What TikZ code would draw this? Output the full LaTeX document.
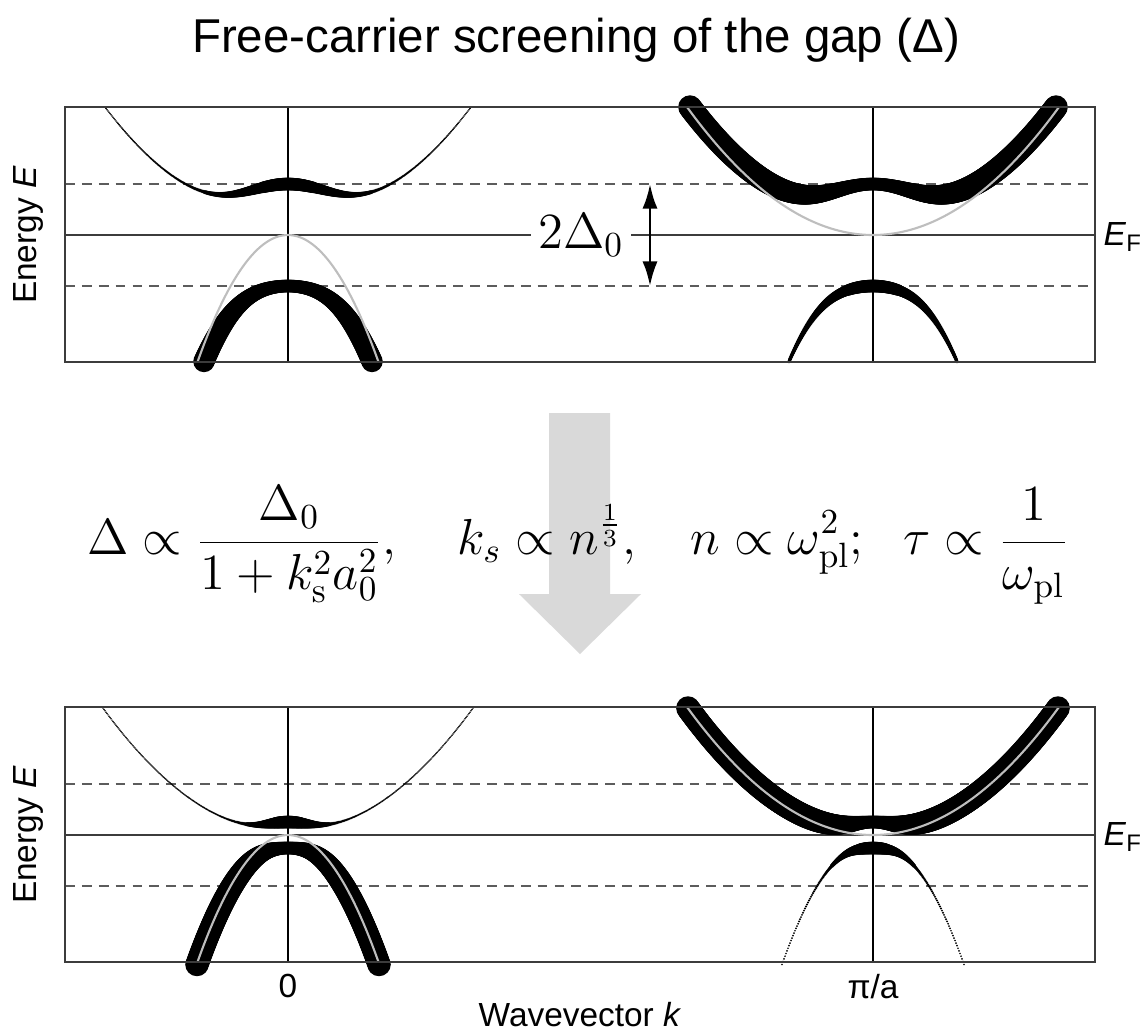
\documentclass[tikz,border=0pt]{standalone}
\usepackage[no-math]{fontspec}
\setmainfont{Liberation Sans}
\usetikzlibrary{arrows.meta}
\definecolor{bsframe}{HTML}{3C3C3C}
\definecolor{bsdash}{HTML}{5C5C5C}
\definecolor{bsbare}{HTML}{BEBEBE}
\definecolor{bsarrow}{HTML}{D9D9D9}

% fat band: centre x, E_F y, gap, branch (+1/-1), weight sign, half range (px)
\newcommand{\fatband}[6]{%
  \foreach \k in {-#6,...,#6}{
    \pgfmathsetmacro\qq{(\k/10)*(\k/10)}
    \pgfmathsetmacro\su{0.96*\qq}
    \pgfmathsetmacro\R{10*sqrt((\su/10)*(\su/10)+(#3/10)*(#3/10))}
    \pgfmathsetmacro\E{-0.59*\qq+(#4)*\R}
    \pgfmathsetmacro\rad{0.2845*(0.85+5.5*(1+(#5)*(#4)*\su/\R))}
    \fill ({#1+\k},{#2-\E}) circle (\rad pt);
  }}

\tikzset{
  axlabel/.style={font=\fontsize{9.5}{11}\selectfont},
  frameline/.style={bsframe,line width=0.6pt},
  levelline/.style={bsdash,line width=0.55pt,dash pattern=on 2.8pt off 2pt},
  bareband/.style={bsbare,line width=0.6pt}
}

\begin{document}
\begin{tikzpicture}[x=0.01cm,y=-0.01cm,>=Latex]
  \useasboundingbox (0,0) rectangle (1145,1032);
  \node[font=\fontsize{13.5}{16}\selectfont] (title) at (576,40) {Free-carrier screening of the gap (Δ)};

  \foreach \oy/\gap/\kup/\klo in {0/51/183/84,600/13/185/91}{
    \begin{scope}[shift={(0,\oy)}]
      \draw[levelline] (65,184) -- (1088,184) (65,286) -- (1088,286);
      \draw[frameline] (65,235) -- (1095,235);
      \draw[line width=0.45pt] (288,107) -- (288,362) (873,107) -- (873,362);
      \fatband{288}{235}{\gap}{1}{-1}{\kup}
      \fatband{288}{235}{\gap}{-1}{-1}{\klo}
      \fatband{873}{235}{\gap}{1}{1}{\kup}
      \fatband{873}{235}{\gap}{-1}{1}{\klo}
      \draw[bareband] plot[domain=-90.5:90.5,samples=61] ({288+\x},{235+1.55*(\x/10)*(\x/10)});
      \draw[bareband] plot[domain=-186:186,samples=91] ({873+\x},{235-0.37*(\x/10)*(\x/10)});
      \draw[frameline] (65,107) rectangle (1095,362);
      \node[axlabel,rotate=90] (energy\oy) at (28,235) {Energy \textit{E}};
      \node[axlabel,anchor=west,inner sep=0pt] (fermi\oy) at (1103,237) {\textit{E}\raisebox{-0.35ex}{\fontsize{6.8}{8}\selectfont F}};
    \end{scope}
  }

  % gap marker
  \node[fill=white,inner sep=2pt,font=\fontsize{14}{16}\selectfont] (gaplabel) at (581,235) {$2\Delta_0$};
  \coordinate (gaptop) at (650,184);
  \coordinate (gapbot) at (650,286);
  \draw[<->,line width=0.8pt,>={Latex[length=7pt,width=4.3pt]}] (gaptop) -- (gapbot);

  % screening arrow and relations
  \fill[bsarrow] (549,413) -- (610,413) -- (610,594) -- (641,594) -- (580,654) -- (519,594) -- (549,594) -- cycle;
  \node[font=\fontsize{14}{16}\selectfont] (relations) at (578,545)
    {$\displaystyle \Delta\propto\frac{\Delta_0}{1+k_\mathrm{s}^2a_0^2},\hspace{15pt}
      k_s\propto n^{\frac{1}{3}},\hspace{13pt}
      n\propto\omega_\mathrm{pl}^2;\hspace{9pt}
      \tau\propto\frac{1}{\omega_\mathrm{pl}}$};

  \node[axlabel,anchor=north] (tickzero) at (288,962) {0};
  \node[axlabel,anchor=north] (tickpi) at (873,962) {π/a};
  \node[axlabel] (kaxis) at (580,1015) {Wavevector \textit{k}};
\end{tikzpicture}
\end{document}
